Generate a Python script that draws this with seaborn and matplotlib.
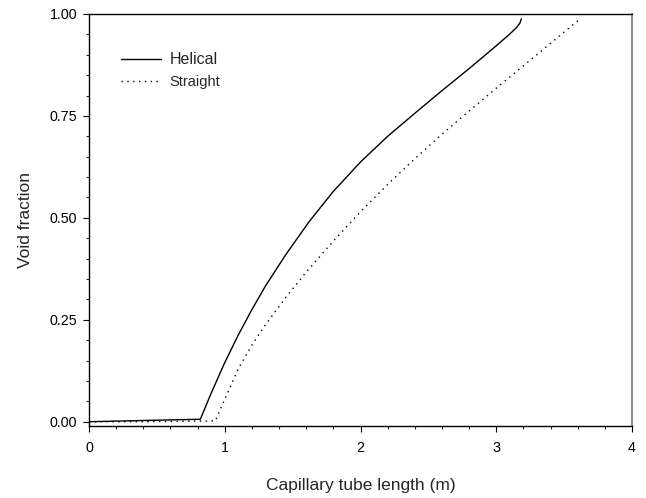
import matplotlib
matplotlib.use("Agg")
import matplotlib.pyplot as plt
import seaborn as sns
import pandas as pd
from matplotlib.ticker import MultipleLocator

helical_x = [0.0, 0.40, 0.82, 0.90, 1.0, 1.1, 1.2, 1.3, 1.45, 1.62, 1.8, 2.0, 2.2, 2.42, 2.6, 2.8, 3.0, 3.1, 3.15, 3.175, 3.185]
helical_y = [0.0, 0.003, 0.006, 0.07, 0.145, 0.213, 0.275, 0.333, 0.41, 0.49, 0.565, 0.637, 0.70, 0.762, 0.812, 0.866, 0.922, 0.951, 0.967, 0.978, 0.988]

straight_x = [0.0, 0.45, 0.93, 1.0, 1.1, 1.2, 1.3, 1.45, 1.6, 1.8, 2.0, 2.2, 2.4, 2.6, 2.8, 3.0, 3.2, 3.4, 3.61]
straight_y = [0.0, 0.0, 0.002, 0.055, 0.13, 0.188, 0.238, 0.305, 0.367, 0.443, 0.515, 0.582, 0.645, 0.705, 0.762, 0.818, 0.873, 0.928, 0.986]

series_names = ["Helical", "Straight"]
x_label = "Capillary tube length (m)"
y_label = "Void fraction"
y_ticks = [0.0, 0.25, 0.5, 0.75, 1.0]
y_tick_labels = ["0.00", "0.25", "0.50", "0.75", "1.00"]
x_ticks = [0, 1, 2, 3, 4]

df = pd.concat([
    pd.DataFrame({"x": helical_x, "y": helical_y, "series": series_names[0]}),
    pd.DataFrame({"x": straight_x, "y": straight_y, "series": series_names[1]}),
], ignore_index=True)

sns.set_style("ticks")
plt.rcParams['font.family'] = ['Liberation Sans', 'DejaVu Sans']

fig = plt.figure(figsize=(6.46, 4.98), dpi=100)
ax = fig.add_axes([0.1378, 0.1446, 0.9783 - 0.1378, 0.9719 - 0.1446])

dot = (1, 3.2)
sns.lineplot(data=df, x="x", y="y", hue="series", style="series",
             palette={"Helical": "black", "Straight": "black"},
             dashes={"Helical": "", "Straight": dot},
             sort=False, estimator=None, linewidth=1.0, ax=ax, legend=False)

h1, = ax.plot([], [], color="black", lw=1.0, label=series_names[0])
h2, = ax.plot([], [], color="black", lw=1.0, linestyle=(0, dot), label=series_names[1])

ax.set_xlim(0, 4)
ax.set_ylim(-0.0105, 1.0)
ax.set_xticks(x_ticks)
ax.set_xticklabels([str(t) for t in x_ticks])
ax.set_yticks(y_ticks)
ax.set_yticklabels(y_tick_labels)
ax.xaxis.set_minor_locator(MultipleLocator(0.2))
ax.yaxis.set_minor_locator(MultipleLocator(0.05))
ax.tick_params(which="major", direction="out", length=4.5, width=0.8, labelsize=10.3, colors="black", pad=6)
ax.tick_params(which="minor", direction="out", length=2.4, width=0.8)
ax.tick_params(axis="y", pad=4)

for side in ["top", "left", "bottom"]:
    ax.spines[side].set_color("black")
    ax.spines[side].set_linewidth(1.0)
ax.spines["right"].set_color("#777777")
ax.spines["right"].set_linewidth(1.2)

ax.set_xlabel(x_label, fontsize=12.5, labelpad=17)
ax.set_ylabel(y_label, fontsize=12.5, labelpad=12)

leg = ax.legend(handles=[h1, h2], loc="upper left", bbox_to_anchor=(0.035, 0.94),
                frameon=False, handlelength=2.7, handletextpad=0.6, labelspacing=0.55,
                fontsize=10.5)
leg.get_texts()[0].set_fontsize(11.5)

fig.savefig("out.png", dpi=100)
